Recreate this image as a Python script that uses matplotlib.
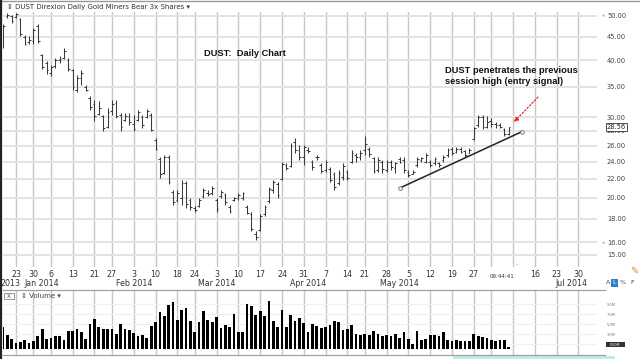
import numpy as np
import pandas as pd
import matplotlib
matplotlib.use('Agg')
import matplotlib.pyplot as plt
from matplotlib.lines import Line2D
from matplotlib.patches import Rectangle
from matplotlib.ticker import NullLocator, NullFormatter

W, H = 640, 359

# calendrier de bourse (jours ouvres sans les feries US)
holidays = ['2013-12-25', '2014-01-01', '2014-01-20', '2014-02-17',
            '2014-04-18', '2014-05-26', '2014-07-04']
days = pd.bdate_range('2013-12-18', '2014-07-07')
days = days[~days.isin(pd.to_datetime(holidays))]
pos = {d.strftime('%Y-%m-%d'): i for i, d in enumerate(days)}

# barres journalieres, du 18 dec 2013 au 6 juin 2014
highs = [48.0, 50.8, 50.3, 50.8, 49.5, 45.5, 45.1, 47.0, 48.0,
         41.3, 39.8, 39.1, 40.5, 40.8, 42.5, 40.4, 38.2, 37.2, 38.1, 35.3, 33.4, 32.8, 32.5, 30.4, 31.4, 32.7, 32.7, 30.6, 30.6, 30.6,
         30.3, 31.1, 30.3, 31.3, 30.6, 27.0, 24.6, 24.8, 24.8, 20.8, 20.8, 21.9, 21.8, 20.0, 19.2, 20.0, 21.0, 20.8, 21.2,
         20.0, 20.8, 20.5, 19.3, 20.1, 20.5, 20.6, 19.3, 18.6, 16.9, 18.4, 19.3, 21.1, 21.9, 21.6, 23.9, 23.8, 26.4, 27.0, 26.1, 26.1,
         25.8, 24.2, 24.8, 23.8, 24.2, 23.3, 22.8, 23.0, 23.8, 23.0, 25.4, 25.1, 25.4, 27.3, 25.8, 24.6, 24.5, 24.2, 24.2, 24.2, 24.0,
         24.5, 24.5, 23.0, 23.0, 24.5, 24.5, 25.1, 24.2, 24.5, 24.0, 24.8, 25.7, 25.8, 25.8, 25.8, 25.5, 25.7, 28.6, 30.4, 30.4, 30.2,
         29.9, 29.3, 29.1, 28.4, 28.6]
lows = [42.6, 49.5, 48.3, 49.5, 45.3, 43.1, 43.4, 43.5, 43.6,
        38.2, 37.4, 37.0, 38.4, 39.5, 40.2, 37.8, 34.5, 34.1, 35.3, 34.2, 31.2, 29.5, 30.3, 28.0, 28.4, 30.3, 29.9, 28.0, 29.4, 28.9,
        28.0, 29.4, 28.4, 29.9, 28.0, 25.4, 22.1, 22.5, 21.4, 19.3, 19.6, 19.3, 19.0, 18.8, 18.6, 19.1, 20.0, 20.2, 20.3,
        18.6, 20.0, 19.3, 18.5, 19.7, 19.8, 19.8, 18.4, 16.9, 16.2, 16.9, 18.2, 19.5, 20.5, 20.0, 21.9, 23.0, 23.3, 25.1, 24.2, 23.6,
        25.1, 23.0, 24.2, 22.7, 22.8, 21.7, 20.8, 21.3, 21.9, 21.9, 23.8, 24.0, 24.2, 24.8, 24.6, 22.7, 22.8, 22.7, 22.8, 23.0, 22.7,
        23.8, 22.7, 22.2, 22.5, 23.4, 24.0, 23.8, 23.4, 23.6, 23.4, 24.0, 24.6, 24.8, 25.1, 25.0, 24.6, 25.0, 26.8, 28.6, 28.3, 28.4,
        28.6, 28.4, 28.4, 27.3, 27.45]
opens = [43.0, 49.9, 50.0, 49.7, 49.3, 45.0, 43.8, 44.0, 47.5,
         41.0, 39.5, 37.5, 38.8, 40.0, 40.5, 40.0, 38.0, 34.5, 36.5, 35.0, 33.0, 32.0, 30.5, 30.2, 28.6, 31.0, 32.2, 30.3, 29.6, 30.2,
         29.0, 29.6, 30.0, 30.0, 30.4, 26.8, 24.3, 22.7, 24.5, 20.6, 19.8, 20.0, 21.5, 19.8, 19.0, 19.2, 20.2, 20.5, 20.5,
         19.8, 20.2, 20.3, 19.1, 19.8, 20.0, 20.0, 19.1, 18.4, 16.7, 17.0, 18.4, 19.7, 20.8, 21.4, 22.0, 23.6, 23.5, 26.5, 25.5, 24.5,
         25.5, 24.0, 24.5, 23.6, 23.0, 23.1, 22.5, 21.5, 22.2, 22.8, 24.0, 24.8, 24.5, 25.4, 25.6, 24.4, 23.0, 24.0, 23.0, 23.9, 23.2,
         24.3, 24.2, 22.8, 22.6, 23.6, 24.2, 24.0, 24.0, 23.8, 23.8, 24.2, 24.8, 25.6, 25.2, 25.6, 25.3, 25.1, 26.9, 28.8, 30.0, 28.6,
         29.5, 29.0, 28.8, 28.3, 27.6]
closes = [47.5, 50.3, 48.8, 50.4, 45.6, 43.5, 44.3, 46.5, 44.0,
          38.6, 38.0, 38.6, 40.0, 40.2, 41.8, 38.2, 35.0, 36.5, 37.5, 34.5, 31.6, 30.2, 31.5, 28.4, 30.8, 32.0, 30.2, 28.5, 30.2, 29.3,
          28.3, 30.8, 28.9, 31.0, 28.2, 25.6, 22.5, 24.5, 21.6, 19.6, 20.5, 21.5, 19.4, 19.1, 18.8, 19.8, 20.8, 20.4, 21.0,
          18.9, 20.6, 19.6, 18.7, 20.0, 20.3, 20.5, 18.5, 17.1, 16.4, 18.2, 19.1, 20.9, 21.6, 20.3, 23.7, 23.2, 26.0, 25.5, 24.5, 25.8,
          25.3, 23.3, 24.6, 22.9, 24.0, 21.9, 21.1, 22.7, 23.5, 22.1, 25.0, 24.5, 25.1, 26.2, 24.9, 22.9, 24.2, 23.1, 24.0, 23.3, 23.8,
          24.0, 23.0, 22.4, 22.8, 24.3, 24.4, 24.8, 23.6, 24.3, 23.6, 24.6, 25.5, 25.1, 25.6, 25.2, 24.8, 25.5, 28.4, 30.0, 28.6, 29.3,
          29.0, 28.8, 28.6, 27.6, 28.56]
# volume en millions
volumes = [4.5, 2.8, 2.1, 1.3, 1.5, 1.9, 1.3, 1.7, 2.6,
           4.0, 2.1, 2.3, 2.6, 2.6, 1.9, 3.7, 3.7, 4.1, 3.5, 2.1, 5.0, 6.0, 4.5, 4.1, 4.1, 4.1, 3.1, 5.1, 4.1, 3.8,
           3.3, 2.6, 2.8, 2.3, 4.7, 5.5, 7.5, 6.6, 8.8, 9.5, 5.9, 7.9, 8.3, 5.7, 3.4, 5.5, 7.6, 5.8, 5.4,
           6.5, 4.3, 4.9, 4.5, 7.0, 3.5, 3.4, 9.0, 8.6, 6.9, 7.6, 6.6, 9.6, 5.7, 4.5, 7.9, 4.5, 6.8, 5.7, 6.3, 5.3,
           3.5, 5.1, 4.6, 4.3, 4.5, 4.8, 5.6, 5.5, 3.8, 4.1, 4.9, 3.1, 2.8, 3.0, 2.8, 3.6, 3.0, 2.6, 2.8, 2.6, 3.0,
           2.3, 3.5, 2.1, 1.1, 3.6, 1.8, 2.0, 2.8, 2.8, 2.6, 3.5, 1.9, 1.7, 1.8, 1.6, 1.7, 1.6, 3.1, 2.7, 2.5, 2.3,
           1.8, 1.7, 1.8, 1.8, 0.5]

tick_dates = ['2013-12-23', '2013-12-30', '2014-01-06', '2014-01-13', '2014-01-21', '2014-01-27',
              '2014-02-03', '2014-02-10', '2014-02-18', '2014-02-24', '2014-03-03', '2014-03-10',
              '2014-03-17', '2014-03-24', '2014-03-31', '2014-04-07', '2014-04-14', '2014-04-21',
              '2014-04-28', '2014-05-05', '2014-05-12', '2014-05-19', '2014-05-27', '2014-06-02',
              '2014-06-09', '2014-06-16', '2014-06-23', '2014-06-30']
tick_labels = ['23', '30', '6', '13', '21', '27', '3', '10', '18', '24', '3', '10', '17', '24', '31',
               '7', '14', '21', '28', '5', '12', '19', '27', '', '', '16', '23', '30']
month_dates = ['2014-01-02', '2014-02-03', '2014-03-03', '2014-04-01', '2014-05-01']
month_labels = ['Jan 2014', 'Feb 2014', 'Mar 2014', 'Apr 2014', 'May 2014']
price_ticks = [50, 45, 40, 35, 30, 28, 26, 24, 22, 20, 18, 16, 15]
vol_ticks = [9, 7, 5, 3, 1]

# trendline (debut / fin)
trend_dates = ['2014-05-01', '2014-06-11']
trend_prices = [21.0, 27.9]

x = np.arange(len(highs))
tx = [pos[d] for d in tick_dates]

fig = plt.figure(figsize=(W / 100, H / 100), dpi=100)
fig.patch.set_facecolor('white')


def px_axes(l, t, r, b):
    return fig.add_axes([l / W, 1 - b / H, (r - l) / W, (b - t) / H])


# ---- panneau prix
ax = px_axes(3, 12, 597, 267)
xmin, xmax = (3 - 2.92) / 4.36, (597 - 2.92) / 4.36
ax.set_xlim(xmin, xmax)
ax.set_yscale('log')
ax.set_ylim(14.11, 51.0)
for s in ax.spines.values():
    s.set_visible(False)

ax.set_xticks(tx)
ax.set_xticklabels(tick_labels, fontsize=5.7, color='#333333')
ax.tick_params(axis='x', length=0, pad=2.5)
ax.yaxis.tick_right()
ax.yaxis.set_minor_locator(NullLocator())
ax.yaxis.set_minor_formatter(NullFormatter())
ax.set_yticks(price_ticks)
ax.set_yticklabels(['%.2f' % v for v in price_ticks], fontsize=4.8, color='#444444')
ax.tick_params(axis='y', length=0, pad=7.2)
ax.grid(axis='x', color='#c6c6c6', lw=1.0)
ax.grid(axis='y', color='#e3e3e3', lw=1.4)
ax.set_axisbelow(True)

bar_c = '#3a3a3a'
ax.vlines(x, lows, highs, color=bar_c, lw=0.75)
ax.hlines(opens, x - 0.4, x, color=bar_c, lw=0.75)
ax.hlines(closes, x, x + 0.4, color=bar_c, lw=0.75)

# trendline
ax.plot([pos[d] for d in trend_dates], trend_prices, color='#222222', lw=1.1,
        marker='o', ms=2.6, mfc='white', mec='#666666', mew=0.6)

# fleche rouge pointillee
ax.annotate('', xy=(117.2, 29.3), xytext=(122.7, 33.2),
            arrowprops=dict(arrowstyle='-|>', color='#e8201c', ls=(0, (1.2, 1.6)), lw=0.9,
                            mutation_scale=6, shrinkA=0, shrinkB=0))

ax.text(0.338, 0.839, 'DUST:  Daily Chart', transform=ax.transAxes, fontsize=6.7,
        fontweight='bold', family='Liberation Sans', color='#111111', va='center')
ax.text(0.744, 0.749, 'DUST penetrates the previous\nsession high (entry signal)',
        transform=ax.transAxes, fontsize=6.7, fontweight='bold', family='Liberation Sans',
        color='#111111', va='center', linespacing=1.15)

# etiquette du dernier cours
ax.annotate('%.2f' % closes[-1], xy=(1, closes[-1]), xycoords=ax.get_yaxis_transform(),
            xytext=(7.2, 0), textcoords='offset points', ha='left', va='center',
            fontsize=4.8, color='#222222',
            bbox=dict(boxstyle='square,pad=0.15', fc='white', ec='#333333', lw=0.6))
for v in (50, 16):
    ax.annotate('\u25c2', xy=(1, v), xycoords=ax.get_yaxis_transform(), xytext=(4.3, 0),
                textcoords='offset points', ha='center', va='center', fontsize=3.5,
                color='#aaaaaa')

# mois sous les dates
xt = ax.get_xaxis_transform()
for d, lab in zip(month_dates, month_labels):
    ax.text(pos[d], -0.063, lab, transform=xt, ha='center', va='center',
            fontsize=5.7, color='#333333', clip_on=False)
ax.annotate('Jul 2014', xy=(pos['2014-07-01'], -0.063), xycoords=xt, xytext=(-8, 0),
            textcoords='offset points', ha='center', va='center', fontsize=5.7, color='#333333')
fig.text(20 / W, 1 - 283 / H, '2013', ha='right', va='center', fontsize=5.7, color='#333333')
ax.text(pos['2014-06-09'] - 2.5, -0.036, '09:44:41', transform=xt, ha='center', va='center',
        fontsize=4.0, color='#333333')
ax.text(pos['2014-06-09'] + 0.9, 0.015, '\u25b5', transform=xt, ha='center', va='center',
        fontsize=3.5, color='#bbbbbb')

# ---- panneau volume
av = px_axes(3, 291, 597, 355)
av.set_xlim(xmin, xmax)
av.set_ylim(-1.2, 11.6)
for s in av.spines.values():
    s.set_visible(False)
av.bar(x, volumes, width=0.62, color='black')
av.set_xticks(tx)
av.set_xticklabels([])
av.tick_params(axis='x', length=0)
av.yaxis.tick_right()
av.set_yticks(vol_ticks)
av.set_yticklabels(['%.1fM' % v for v in vol_ticks], fontsize=2.6, color='#777777')
av.tick_params(axis='y', length=0, pad=7.0)
av.grid(axis='x', color='#c6c6c6', lw=1.0)
av.grid(axis='y', color='#f0f0f0', lw=0.8)
av.set_axisbelow(True)

# ---- habillage de la fenetre
fig.text(7 / W, 1 - 7 / H, '\u21d5 DUST Direxion Daily Gold Miners Bear 3x Shares \u25be',
         fontsize=5.0, color='#333333', va='center')
fig.add_artist(Rectangle((4 / W, 1 - 299 / H), 10 / W, 6 / H, fc='white', ec='#888888', lw=0.6))
fig.text(9 / W, 1 - 296 / H, 'X', fontsize=4.0, color='#444444', ha='center', va='center')
fig.text(21 / W, 1 - 296 / H, '\u21d5 Volume \u25be', fontsize=5.0, color='#444444', va='center')

fig.add_artist(Line2D([0, 1], [1 - 0.6 / H] * 2, color='#999999', lw=1.0))
fig.add_artist(Line2D([3 / W, 605 / W], [1 - 289.5 / H] * 2, color='#a0a0a0', lw=0.9))
fig.add_artist(Line2D([3 / W, 605 / W], [1 - 355 / H] * 2, color='#a0a0a0', lw=0.9))
fig.add_artist(Line2D([1 / W] * 2, [0, 1], color='#222222', lw=1.6))

fig.add_artist(Rectangle((453 / W, 0), 162 / W, 3.5 / H, fc='#bdeee9', ec='none'))
fig.add_artist(Rectangle((606 / W, 1 - 347 / H), 19 / W, 5 / H, fc='#333333', ec='none'))
fig.text(615.5 / W, 1 - 344.5 / H, '%.2fM' % volumes[-1], fontsize=2.4, color='white',
         ha='center', va='center')

# boutons A L % F et crayon
fig.text(608 / W, 1 - 283 / H, 'A', fontsize=4.6, color='#444444', va='center', ha='center')
fig.add_artist(Rectangle((611 / W, 1 - 287 / H), 7 / W, 8 / H, fc='#2f7fc8', ec='none'))
fig.text(614.5 / W, 1 - 283 / H, 'L', fontsize=4.6, color='white', va='center', ha='center')
fig.text(623 / W, 1 - 283 / H, '%', fontsize=4.6, color='#444444', va='center', ha='center')
fig.text(632 / W, 1 - 283 / H, 'F', fontsize=4.6, color='#444444', va='center', ha='center')
fig.text(634 / W, 1 - 271 / H, '\u270e', fontsize=7, color='#e08a2a', va='center', ha='center')

fig.savefig('out.png', dpi=100)
